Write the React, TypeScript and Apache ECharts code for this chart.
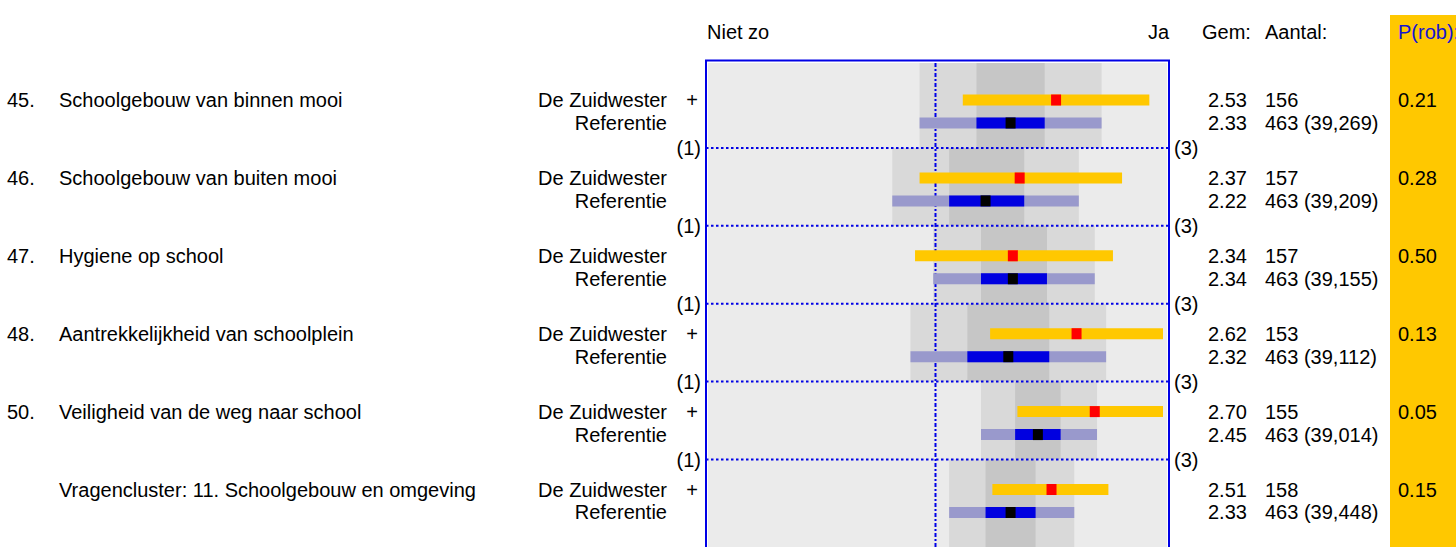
import React, { useEffect, useRef } from "react";
import * as echarts from "echarts";

// ---------- data ----------
const itemNumbers = ["45.", "46.", "47.", "48.", "50.", ""];
const itemLabels = [
  "Schoolgebouw van binnen mooi",
  "Schoolgebouw van buiten mooi",
  "Hygiene op school",
  "Aantrekkelijkheid van schoolplein",
  "Veiligheid van de weg naar school",
  "Vragencluster: 11. Schoolgebouw en omgeving",
];
const schoolName = "De Zuidwester";
const refName = "Referentie";
const significant = [true, false, false, true, true, true];

const schoolMean = [2.53, 2.37, 2.34, 2.62, 2.7, 2.51];
const schoolLow = [2.12, 1.93, 1.91, 2.24, 2.36, 2.25];
const schoolHigh = [2.94, 2.82, 2.78, 3.0, 3.0, 2.76];

const refMean = [2.33, 2.22, 2.34, 2.32, 2.45, 2.33];
const refOuterLow = [1.93, 1.81, 1.99, 1.89, 2.2, 2.06];
const refOuterHigh = [2.73, 2.63, 2.7, 2.75, 2.71, 2.61];
const refInnerLow = [2.18, 2.06, 2.2, 2.14, 2.35, 2.22];
const refInnerHigh = [2.48, 2.39, 2.49, 2.5, 2.55, 2.44];

const schoolCount = ["156", "157", "157", "153", "155", "158"];
const refCount = [
  "463 (39,269)",
  "463 (39,209)",
  "463 (39,155)",
  "463 (39,112)",
  "463 (39,014)",
  "463 (39,448)",
];
const pRob = ["0.21", "0.28", "0.50", "0.13", "0.05", "0.15"];

const scaleMin = 1;
const scaleMax = 3;
const scaleMid = 2;
const scaleLowLabel = "(1)";
const scaleHighLabel = "(3)";
const headerLow = "Niet zo";
const headerHigh = "Ja";
const headerMean = "Gem:";
const headerCount = "Aantal:";
const headerP = "P(rob):";

// ---------- layout / style ----------
const FONT = "'Liberation Sans', Arial, Helvetica, sans-serif";
const FS = 20;
const FRAME_L = 706;
const FRAME_R = 1169;
const FRAME_T = 60.5;
const GRID_TOP = 63;
const GRID_H = 484;
const ROW_PX = 77.9;
const Y_MIN = -0.09;
const Y_MAX = Y_MIN + GRID_H / ROW_PX;
const Y_SCHOOL = 0.385;
const Y_REF = 0.68;
const BAR_H = 11;
const MARK_W = 10;
const BLUE = "#0000e6";

const txt = (x: number, y: number, text: string, align = "left", fill = "#000") => ({
  type: "text",
  x,
  y,
  silent: true,
  style: {
    text,
    fill,
    fontSize: FS,
    fontFamily: FONT,
    align,
    textAlign: align,
    verticalAlign: "middle",
    textVerticalAlign: "middle",
  },
});

export default function App() {
  const ref = useRef<HTMLDivElement>(null);

  useEffect(() => {
    if (!ref.current) return;
    const chart = echarts.init(ref.current, undefined, { renderer: "svg" });
    const n = itemLabels.length;
    const rows = itemLabels.map((_, i) => i);

    const option: any = {
      animation: false,
      grid: { left: 708, top: GRID_TOP, width: 455, height: GRID_H, containLabel: false, show: false },
      xAxis: { type: "value", min: scaleMin, max: scaleMax, show: false },
      yAxis: { type: "value", min: Y_MIN, max: Y_MAX, inverse: true, show: false },
      graphic: [
        {
          type: "rect",
          z: -20,
          silent: true,
          shape: { x: 1390, y: 15, width: 70, height: 540 },
          style: { fill: "#ffc800" },
        },
        {
          type: "rect",
          z: -10,
          silent: true,
          shape: { x: 708, y: 63, width: 459, height: 520 },
          style: { fill: "#ebebeb" },
        },
        {
          type: "rect",
          z: 50,
          silent: true,
          shape: { x: FRAME_L, y: FRAME_T, width: FRAME_R - FRAME_L, height: 560 },
          style: { fill: "none", stroke: BLUE, lineWidth: 2 },
        },
        txt(707, 31.5, headerLow),
        txt(1169, 31.5, headerHigh, "right"),
        txt(1202, 31.5, headerMean),
        txt(1265, 31.5, headerCount),
        txt(1398, 31.5, headerP, "left", "#1414d2"),
      ],
      series: [
        {
          type: "custom",
          z: 1,
          silent: true,
          data: rows.map((i) => [i, refOuterLow[i], refOuterHigh[i], refInnerLow[i], refInnerHigh[i]]),
          renderItem: (params: any, api: any) => {
            const i = api.value(0);
            const cs = params.coordSys;
            const top = i === 0 ? cs.y : api.coord([scaleMin, i])[1];
            const bottom = i === n - 1 ? cs.y + cs.height + 20 : api.coord([scaleMin, i + 1])[1];
            const ox1 = api.coord([api.value(1), i])[0];
            const ox2 = api.coord([api.value(2), i])[0];
            const ix1 = api.coord([api.value(3), i])[0];
            const ix2 = api.coord([api.value(4), i])[0];
            return {
              type: "group",
              children: [
                { type: "rect", shape: { x: ox1, y: top, width: ox2 - ox1, height: bottom - top }, style: { fill: "#d9d9d9" } },
                { type: "rect", shape: { x: ix1, y: top, width: ix2 - ix1, height: bottom - top }, style: { fill: "#c6c6c6" } },
              ],
            };
          },
        },
        {
          type: "custom",
          z: 3,
          silent: true,
          data: [[0]],
          renderItem: (params: any, api: any) => {
            const cs = params.coordSys;
            const children: any[] = [];
            const vx = api.coord([scaleMid, 0])[0];
            children.push({
              type: "line",
              shape: { x1: vx, y1: cs.y, x2: vx, y2: cs.y + cs.height + 20 },
              style: { stroke: BLUE, lineWidth: 2, lineDash: [4, 2, 2, 2] },
            });
            for (let k = 1; k < n; k++) {
              const y = api.coord([scaleMin, k])[1];
              children.push({
                type: "line",
                shape: { x1: FRAME_L, y1: y, x2: FRAME_R, y2: y },
                style: { stroke: BLUE, lineWidth: 2, lineDash: [2.5, 2.5] },
              });
            }
            return { type: "group", children };
          },
        },
        {
          type: "custom",
          z: 4,
          silent: true,
          data: rows.map((i) => [
            i,
            schoolLow[i],
            schoolHigh[i],
            schoolMean[i],
            refOuterLow[i],
            refOuterHigh[i],
            refInnerLow[i],
            refInnerHigh[i],
            refMean[i],
          ]),
          renderItem: (params: any, api: any) => {
            const i = api.value(0);
            const ys = api.coord([scaleMin, i + Y_SCHOOL])[1];
            const yr = api.coord([scaleMin, i + Y_REF])[1];
            const X = (v: number) => api.coord([v, i])[0];
            const sL = X(api.value(1)), sH = X(api.value(2)), sM = X(api.value(3));
            const oL = X(api.value(4)), oH = X(api.value(5));
            const iL = X(api.value(6)), iH = X(api.value(7)), rM = X(api.value(8));
            const rect = (x1: number, x2: number, yc: number, fill: string) => ({
              type: "rect",
              shape: { x: x1, y: yc - BAR_H / 2, width: x2 - x1, height: BAR_H },
              style: { fill },
            });
            return {
              type: "group",
              children: [
                rect(sL, sH, ys, "#ffc800"),
                rect(sM - MARK_W / 2, sM + MARK_W / 2, ys, "#ff0000"),
                rect(oL, oH, yr, "#9999cc"),
                rect(iL, iH, yr, "#0000e0"),
                rect(rM - MARK_W / 2, rM + MARK_W / 2, yr, "#000000"),
              ],
            };
          },
        },
        {
          type: "custom",
          z: 5,
          silent: true,
          clip: false,
          data: rows.map((i) => [i]),
          renderItem: (params: any, api: any) => {
            const i = api.value(0);
            const ys = api.coord([scaleMin, i + Y_SCHOOL])[1];
            const yr = api.coord([scaleMin, i + Y_REF])[1];
            const children: any[] = [
              txt(7, ys, itemNumbers[i]),
              txt(59, ys, itemLabels[i]),
              txt(667, ys, schoolName, "right"),
              txt(667, yr, refName, "right"),
              txt(1208, ys, schoolMean[i].toFixed(2)),
              txt(1208, yr, refMean[i].toFixed(2)),
              txt(1265, ys, schoolCount[i]),
              txt(1265, yr, refCount[i]),
              txt(1398, ys, pRob[i]),
            ];
            if (significant[i]) children.push(txt(692, ys, "+", "center"));
            if (i < n - 1) {
              const yb = api.coord([scaleMin, i + 1])[1];
              children.push(txt(701, yb, scaleLowLabel, "right"));
              children.push(txt(1174, yb, scaleHighLabel, "left"));
            }
            return { type: "group", children };
          },
        },
      ],
    };

    chart.setOption(option);
    return () => chart.dispose();
  }, []);

  return (
    <div
      ref={ref}
      style={{ position: "absolute", left: 0, top: 0, width: 1456, height: 547, background: "#fff" }}
    />
  );
}
